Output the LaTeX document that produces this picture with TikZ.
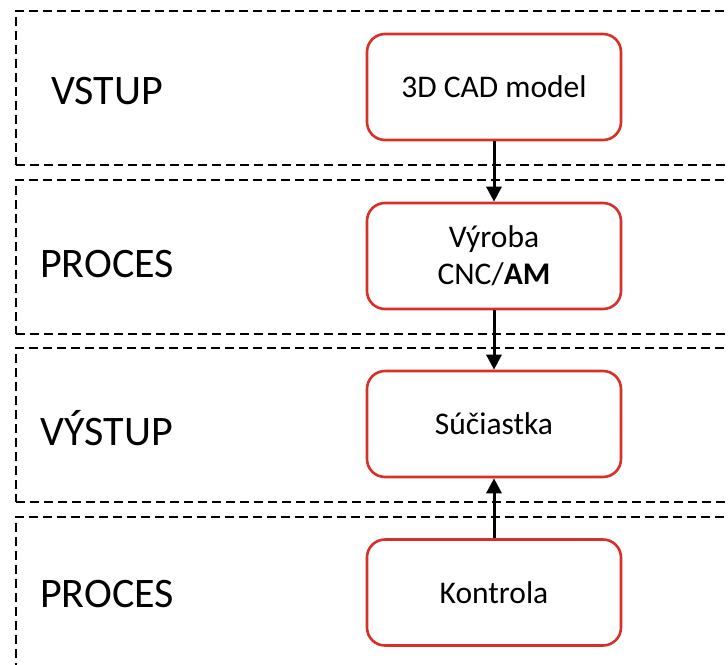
\documentclass[tikz,border=0pt]{standalone}
\usepackage{fontspec}
\setmainfont{Carlito}
\usetikzlibrary{arrows.meta}
\definecolor{boxred}{RGB}{214,48,39}
\begin{document}
\begin{tikzpicture}[x=1pt,y=-1pt,
  band/.style={draw=black,line width=2.4pt,dash pattern=on 9pt off 5pt,inner sep=0pt,
    minimum width=760pt,minimum height=154pt,anchor=north west},
  lbl/.style={font=\fontsize{42}{50}\selectfont,anchor=base,inner sep=0pt},
  stepbox/.style={draw=boxred,line width=2.6pt,rounded corners=18pt,minimum width=254pt,
    minimum height=106pt,inner sep=0pt,align=center,font=\fontsize{31.5}{37}\selectfont,fill=white},
  conn/.style={draw=black,line width=3pt,-{Triangle[length=15pt,width=15pt]}}]
\useasboundingbox (0,0) rectangle (728,664);
\clip (0,0) rectangle (728,664);
% bands
\node[band] (b1) at (15,10) {};
\node[band] (b2) at (15,179) {};
\node[band] (b3) at (15,347) {};
\node[band] (b4) at (15,516) {};
% labels
\node[lbl] (l1) at (107,104) {VSTUP};
\node[lbl] (l2) at (107,277) {PROCES};
\node[lbl] (l3) at (107,445) {VÝSTUP};
\node[lbl] (l4) at (107,607) {PROCES};
% boxes
\node[stepbox] (cad) at (494,87) {3D CAD model};
\node[stepbox] (vyr) at (494,256) {Výroba\\CNC/\textbf{AM}};
\node[stepbox] (suc) at (494,424) {Súčiastka};
\node[stepbox] (kon) at (494,592.5) {Kontrola};
% connectors
\draw[conn] (cad.south) -- (vyr.north);
\draw[conn] (vyr.south) -- (suc.north);
\draw[conn] (kon.north) -- (suc.south);
\end{tikzpicture}
\end{document}
